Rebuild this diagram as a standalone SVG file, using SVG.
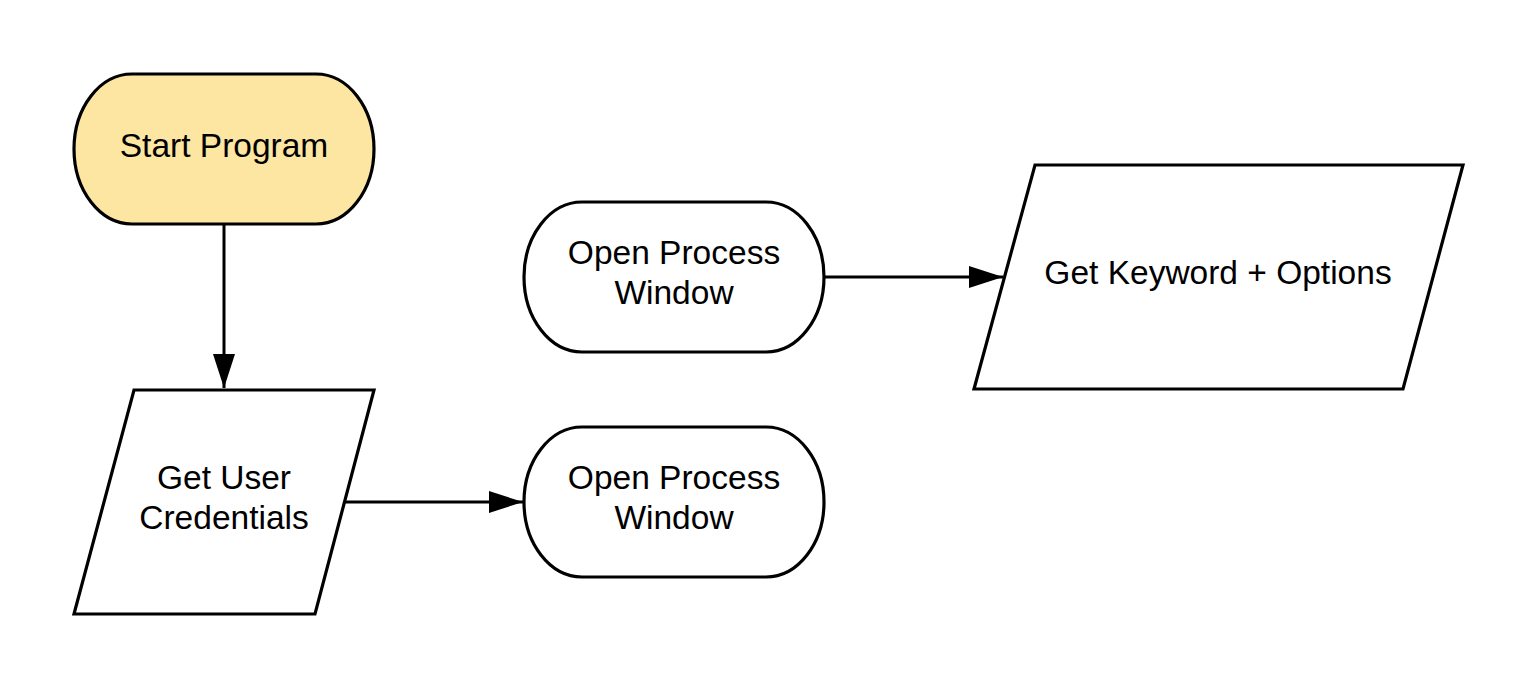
<svg xmlns="http://www.w3.org/2000/svg" width="1538" height="690" viewBox="0 0 1538 690">
<defs>
<style>
.shape{stroke:#000;stroke-width:3.2;fill:#fff;stroke-linejoin:miter}
.start{fill:#fce6a2}
.lbl{font-family:"Liberation Sans",Arial,sans-serif;font-size:33.5px;fill:#000;text-anchor:middle}
.conn{stroke:#000;stroke-width:3;fill:none}
</style>
<marker id="arr" viewBox="0 0 34 22" refX="34" refY="11" markerWidth="34" markerHeight="22" markerUnits="userSpaceOnUse" orient="auto">
<path d="M0,0 L34,11 L0,22 Z" fill="#000"/>
</marker>
</defs>
<rect width="1538" height="690" fill="#fff"/>
<g id="connectors">
<line class="conn" x1="224" y1="222" x2="224" y2="388" marker-end="url(#arr)"/>
<line class="conn" x1="342" y1="502" x2="523" y2="502" marker-end="url(#arr)"/>
<line class="conn" x1="822" y1="277" x2="1003" y2="277" marker-end="url(#arr)"/>
</g>
<g id="start">
<rect class="shape start" x="74" y="74" width="300" height="150" rx="58" ry="75"/>
<text class="lbl" x="224" y="157">Start Program</text>
</g>
<g id="credentials">
<polygon class="shape" points="134,390 374,390 315,614 74,614"/>
<text class="lbl" x="224" y="489">Get User</text>
<text class="lbl" x="224" y="529">Credentials</text>
</g>
<g id="open1">
<rect class="shape" x="524" y="202" width="300" height="150" rx="58" ry="75"/>
<text class="lbl" x="674" y="264">Open Process</text>
<text class="lbl" x="674" y="304">Window</text>
</g>
<g id="open2">
<rect class="shape" x="524" y="427" width="300" height="150" rx="58" ry="75"/>
<text class="lbl" x="674" y="489">Open Process</text>
<text class="lbl" x="674" y="529">Window</text>
</g>
<g id="keyword">
<polygon class="shape" points="1035,165 1463,165 1403,389 974,389"/>
<text class="lbl" x="1218" y="284">Get Keyword + Options</text>
</g>
</svg>
